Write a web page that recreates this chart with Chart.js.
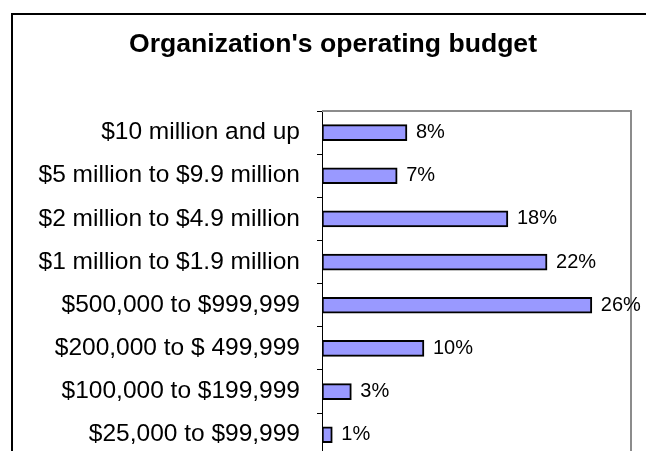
<!DOCTYPE html>
<html>
<head>
<meta charset="utf-8">
<script src="https://cdn.jsdelivr.net/npm/chart.js@4/dist/chart.umd.min.js"></script>
<style>
  html, body { margin: 0; padding: 0; background: #fff; overflow: hidden; }
  #wrap { position: relative; width: 646px; height: 451px; overflow: hidden; }
  canvas { display: block; }
</style>
</head>
<body>
<div id="wrap"><canvas id="c" width="646" height="488"></canvas></div>
<script>
const titleText = "Organization's operating budget";
const categories = [
  "$10 million and up",
  "$5 million to $9.9 million",
  "$2 million to $4.9 million",
  "$1 million to $1.9 million",
  "$500,000 to $999,999",
  "$200,000 to $ 499,999",
  "$100,000 to $199,999",
  "$25,000 to $99,999"
];
const values = [8.25, 7.3, 18.05, 21.85, 26.2, 9.9, 2.85, 1.0];
const valueLabels = ["8%", "7%", "18%", "22%", "26%", "10%", "3%", "1%"];

const decorPlugin = {
  id: 'decor',
  beforeDatasetsDraw(chart) {
    const ctx = chart.ctx, a = chart.chartArea;
    ctx.save();
    ctx.strokeStyle = '#000';
    ctx.lineWidth = 2;
    ctx.beginPath();
    ctx.moveTo(12, 1000);
    ctx.lineTo(12, 14);
    ctx.lineTo(1000, 14);
    ctx.stroke();
    ctx.strokeStyle = '#8c8c8c';
    ctx.lineWidth = 2;
    ctx.beginPath();
    ctx.moveTo(a.left, a.top);
    ctx.lineTo(a.right, a.top);
    ctx.lineTo(a.right, 1000);
    ctx.stroke();
    ctx.fillStyle = '#000';
    ctx.font = 'bold 25px "Liberation Sans", Arial, sans-serif';
    const w = ctx.measureText(titleText).width;
    ctx.translate(333, 52);
    ctx.scale(408 / w, 1);
    ctx.textAlign = 'center';
    ctx.textBaseline = 'alphabetic';
    ctx.fillText(titleText, 0, 0);
    ctx.restore();
  },
  afterDatasetsDraw(chart) {
    const ctx = chart.ctx;
    const meta = chart.getDatasetMeta(0);
    ctx.save();
    ctx.fillStyle = '#000';
    ctx.font = '20px "Liberation Sans", Arial, sans-serif';
    ctx.textAlign = 'left';
    ctx.textBaseline = 'middle';
    meta.data.forEach((el, i) => {
      ctx.fillText(valueLabels[i], el.x + 9, el.y);
    });
    ctx.restore();
  }
};

new Chart(document.getElementById('c'), {
  type: 'bar',
  data: {
    labels: categories,
    datasets: [{
      data: values,
      backgroundColor: '#9999FF',
      borderColor: '#000',
      borderWidth: 2,
      borderSkipped: false,
      barThickness: 16
    }]
  },
  options: {
    indexAxis: 'y',
    responsive: false,
    animation: false,
    devicePixelRatio: 1,
    layout: { padding: { left: 0, right: 15, top: 111, bottom: 3 } },
    plugins: { legend: { display: false }, tooltip: { enabled: false }, title: { display: false } },
    scales: {
      x: { display: false, min: 0, max: 30 },
      y: {
        offset: true,
        afterFit(scale) { scale.width = 322; },
        grid: { offset: true, drawOnChartArea: false, drawTicks: true, tickLength: 5, color: '#000', lineWidth: 1 },
        border: { display: true, color: '#000', width: 1 },
        ticks: {
          color: '#000',
          padding: 17,
          font: { family: '"Liberation Sans", Arial, sans-serif', size: 24.5 }
        }
      }
    }
  },
  plugins: [decorPlugin]
});
</script>
</body>
</html>
